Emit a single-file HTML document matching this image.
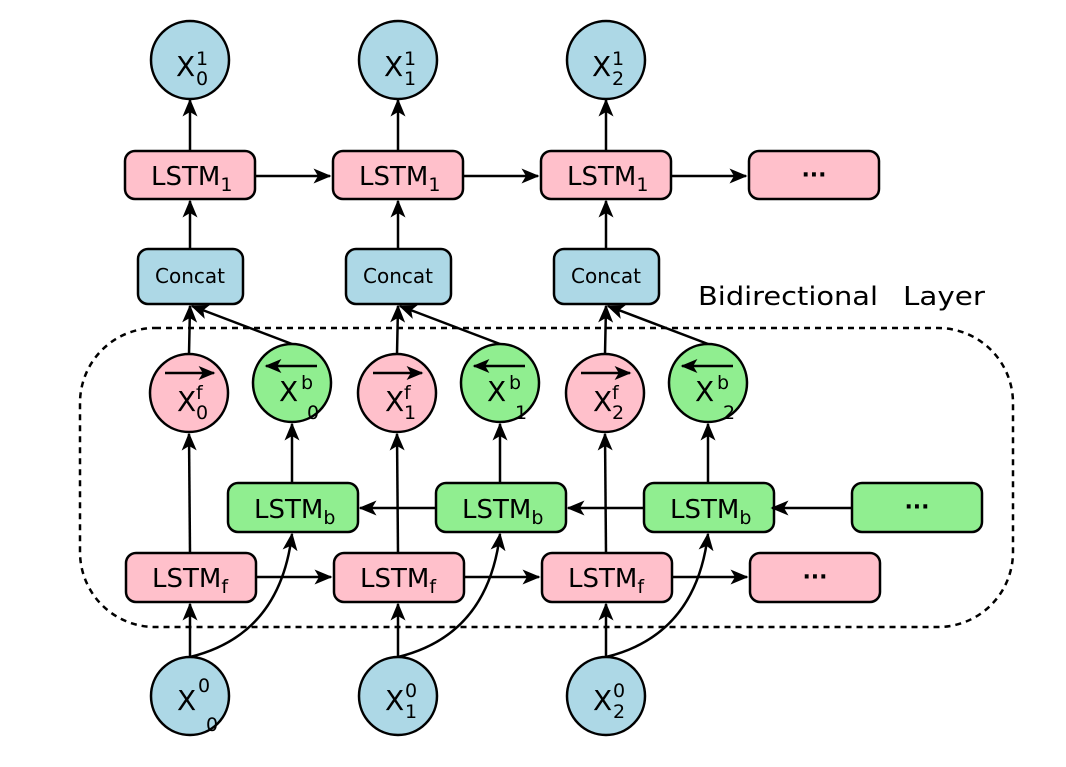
<!DOCTYPE html>
<html><head><meta charset="utf-8"><style>
html,body{margin:0;padding:0;background:#fff}
svg{display:block}
text{font-family:"DejaVu Sans","Liberation Sans",sans-serif;fill:#000}
</style></head><body>
<svg width="1066" height="767" viewBox="0 0 1066 767" xmlns="http://www.w3.org/2000/svg">
<defs>
<marker id="a" viewBox="0 0 12 10" refX="11" refY="5" markerWidth="17" markerHeight="14" markerUnits="userSpaceOnUse" orient="auto">
<path d="M0,0 L12,5 L0,10 L3,5 z" fill="#000"/>
</marker>
<marker id="s" viewBox="0 0 12 10" refX="11" refY="5" markerWidth="18" markerHeight="16" markerUnits="userSpaceOnUse" orient="auto">
<path d="M0,0 L12,5 L0,10 L3,5 z" fill="#000"/>
</marker>
<g id="col" stroke="#000" stroke-width="2.5">
  <line x1="190" y1="151" x2="190" y2="100" marker-end="url(#s)" fill="none"/>
  <line x1="190" y1="249" x2="190" y2="201" marker-end="url(#s)"/>
  <line x1="189" y1="354" x2="190" y2="306" marker-end="url(#s)"/>
  <line x1="292" y1="344" x2="192" y2="306" marker-end="url(#s)"/>
  <line x1="190" y1="553" x2="189" y2="434" marker-end="url(#s)"/>
  <line x1="292" y1="483" x2="292" y2="424" marker-end="url(#s)"/>
  <line x1="190" y1="657" x2="190" y2="604" marker-end="url(#s)"/>
  <path d="M190,657 Q280,635 292,534" fill="none" marker-end="url(#s)"/>
  <line x1="256" y1="577" x2="331" y2="577" marker-end="url(#s)"/>
  <line x1="255" y1="176" x2="330" y2="176" marker-end="url(#s)"/>
  <circle cx="190" cy="60" r="39" fill="#add8e6"/>
  <rect x="125" y="151" width="130" height="48" rx="10" fill="#ffc0cb"/>
  <rect x="138" y="249" width="105" height="55" rx="10" fill="#add8e6"/>
  <circle cx="189" cy="393" r="39" fill="#ffc0cb"/>
  <circle cx="292" cy="383" r="39" fill="#90ee90"/>
  <rect x="228" y="483" width="130" height="49" rx="10" fill="#90ee90"/>
  <rect x="126" y="553" width="130" height="49" rx="10" fill="#ffc0cb"/>
  <circle cx="190" cy="696" r="39" fill="#add8e6"/>
  <line x1="165" y1="373" x2="214" y2="373" marker-end="url(#a)"/>
  <line x1="317" y1="366" x2="266" y2="366" marker-end="url(#a)"/>
</g>
</defs>

<rect x="80" y="328" width="933" height="299" rx="75" fill="none" stroke="#000" stroke-width="2.5" stroke-dasharray="6,5"/>

<use href="#col"/>
<use href="#col" transform="translate(208,0)"/>
<use href="#col" transform="translate(416,0)"/>

<g stroke="#000" stroke-width="2.5">
  <line x1="435" y1="508" x2="360" y2="508" marker-end="url(#s)"/>
  <line x1="643" y1="508" x2="568" y2="508" marker-end="url(#s)"/>
  <line x1="852" y1="508" x2="772" y2="508" marker-end="url(#s)"/>
  <rect x="749" y="151" width="130" height="48" rx="10" fill="#ffc0cb"/>
  <rect x="852" y="483" width="130" height="49" rx="10" fill="#90ee90"/>
  <rect x="750" y="553" width="130" height="49" rx="10" fill="#ffc0cb"/>
</g>
<text x="814" y="182" font-size="22" text-anchor="middle" font-weight="bold">···</text>
<text x="917" y="514" font-size="22" text-anchor="middle" font-weight="bold">···</text>
<text x="815" y="584" font-size="22" text-anchor="middle" font-weight="bold">···</text>

<text x="698" y="305" font-size="26" textLength="180" lengthAdjust="spacingAndGlyphs">Bidirectional</text>
<text x="903" y="305" font-size="26" textLength="82" lengthAdjust="spacingAndGlyphs">Layer</text>

<g id="labels">
<text x="151" y="185" font-size="26">LSTM<tspan font-size="19" dy="6">1</tspan></text>
<text x="190" y="283" font-size="20" text-anchor="middle">Concat</text>
<text x="254" y="518" font-size="26">LSTM<tspan font-size="19" dy="6">b</tspan></text>
<text x="152" y="587" font-size="26">LSTM<tspan font-size="19" dy="6">f</tspan></text>
</g>
<use href="#labels" transform="translate(208,0)"/>
<use href="#labels" transform="translate(416,0)"/>

<g font-size="28">
<text x="176" y="76">X</text><text x="196" y="65" font-size="19">1</text><text x="196" y="85" font-size="19">0</text>
<text x="384" y="76">X</text><text x="404" y="65" font-size="19">1</text><text x="404" y="85" font-size="19">1</text>
<text x="592" y="76">X</text><text x="612" y="65" font-size="19">1</text><text x="612" y="85" font-size="19">2</text>

<text x="177" y="411">X</text><text x="196" y="399" font-size="19">f</text><text x="196" y="419" font-size="19">0</text>
<text x="385" y="411">X</text><text x="404" y="399" font-size="19">f</text><text x="404" y="419" font-size="19">1</text>
<text x="593" y="411">X</text><text x="612" y="399" font-size="19">f</text><text x="612" y="419" font-size="19">2</text>

<text x="279" y="401">X</text><text x="301" y="389" font-size="19">b</text><text x="307" y="419" font-size="19">0</text>
<text x="487" y="401">X</text><text x="509" y="389" font-size="19">b</text><text x="515" y="419" font-size="19">1</text>
<text x="695" y="401">X</text><text x="717" y="389" font-size="19">b</text><text x="723" y="419" font-size="19">2</text>

<text x="177" y="710">X</text><text x="198" y="692" font-size="19">0</text><text x="206" y="731" font-size="19">0</text>
<text x="385" y="710">X</text><text x="405" y="697" font-size="19">0</text><text x="405" y="718" font-size="19">1</text>
<text x="593" y="710">X</text><text x="613" y="697" font-size="19">0</text><text x="613" y="718" font-size="19">2</text>
</g>
</svg>
</body></html>
